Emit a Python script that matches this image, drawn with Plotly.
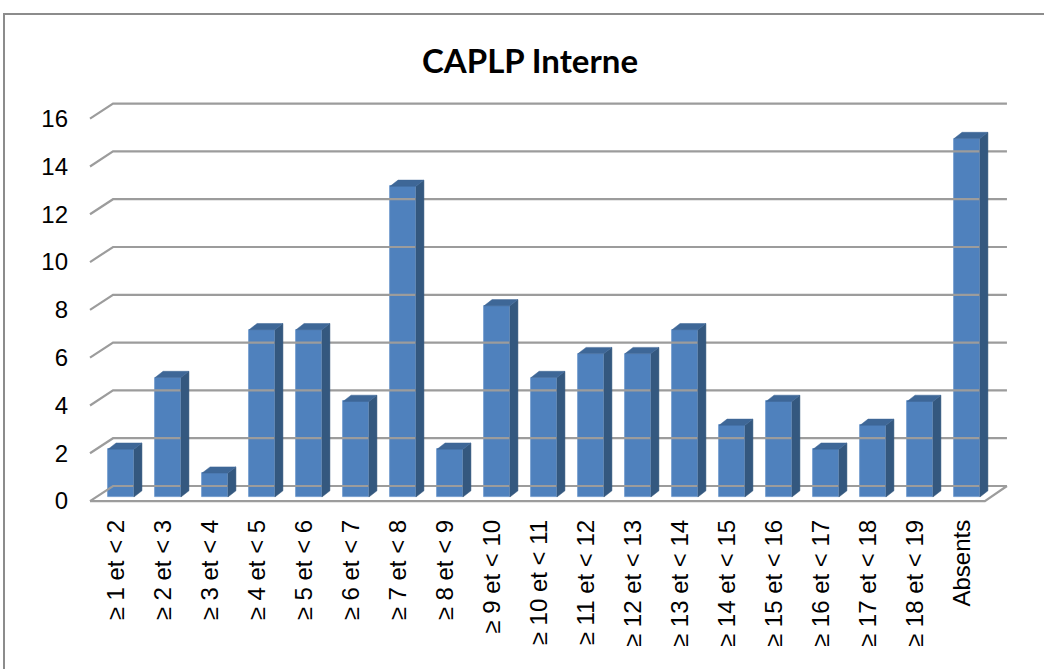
import plotly.graph_objects as go

# ---- data ----
categories = ["≥ 1 et < 2", "≥ 2 et < 3", "≥ 3 et < 4", "≥ 4 et < 5", "≥ 5 et < 6",
              "≥ 6 et < 7", "≥ 7 et < 8", "≥ 8 et < 9", "≥ 9 et < 10", "≥ 10 et < 11",
              "≥ 11 et < 12", "≥ 12 et < 13", "≥ 13 et < 14", "≥ 14 et < 15", "≥ 15 et < 16",
              "≥ 16 et < 17", "≥ 17 et < 18", "≥ 18 et < 19", "Absents"]
values = [2, 5, 1, 7, 7, 4, 13, 2, 8, 5, 6, 6, 7, 3, 4, 2, 3, 4, 15]
y_ticks = [0, 2, 4, 6, 8, 10, 12, 14, 16]
title_text = "CAPLP Interne"

# ---- 3D-look geometry (in axis units) ----
n = len(categories)
xs = list(range(n))
bar_w = 0.55
dx, dy = 0.17, 0.26          # bar depth offset
front_dy = -0.17             # front plane offset (tick labels, floor edge)
back_dy = 0.46               # back wall offset
front_x0, back_x0 = -0.66, -0.17
front_x1, back_x1 = 18.38, 18.85

grid_color = "#9C9C9C"
front_col = "#4F81BD"
side_col = "#34587F"
top_col = "#3E6797"

fig = go.Figure()

# gridlines: back wall + left diagonal
gx, gy = [], []
for v in y_ticks:
    gx += [front_x0, back_x0, back_x1, None]
    gy += [v + front_dy, v + back_dy, v + back_dy, None]
# floor front edge and right diagonal
gx += [front_x0, front_x1, back_x1, None]
gy += [front_dy, front_dy, back_dy, None]
fig.add_trace(go.Scatter(x=gx, y=gy, mode="lines", line=dict(color=grid_color, width=2.2),
                         hoverinfo="skip", showlegend=False))

# side faces
sx, sy = [], []
for i, v in zip(xs, values):
    r = i + bar_w / 2
    sx += [r, r + dx, r + dx, r, r, None]
    sy += [0, dy, v + dy, v, 0, None]
fig.add_trace(go.Scatter(x=sx, y=sy, mode="lines", fill="toself", fillcolor=side_col,
                         line=dict(color=side_col, width=0.5), hoverinfo="skip", showlegend=False))

# top faces
tx, ty = [], []
for i, v in zip(xs, values):
    l = i - bar_w / 2
    r = i + bar_w / 2
    tx += [l, l + dx, r + dx, r, l, None]
    ty += [v, v + dy, v + dy, v, v, None]
fig.add_trace(go.Scatter(x=tx, y=ty, mode="lines", fill="toself", fillcolor=top_col,
                         line=dict(color=top_col, width=0.5), hoverinfo="skip", showlegend=False))

# front faces
fig.add_trace(go.Bar(x=xs, y=values, width=bar_w, marker=dict(color=front_col,
                     line=dict(color="#6C97CB", width=0.8)), showlegend=False))

fig.update_layout(
    width=1044, height=669,
    margin=dict(l=83, r=30, t=101, b=165),
    paper_bgcolor="white", plot_bgcolor="white",
    title=dict(text=f"<b>{title_text}</b>", x=530 / 1044, xanchor="center",
               y=1 - 61 / 669, yanchor="middle",
               font=dict(family="Lato", size=33, color="black")),
    xaxis=dict(range=[-0.809, 19.0], tickmode="array",
               tickvals=[i - 0.1 for i in xs], ticktext=categories,
               tickangle=-90, showgrid=False, zeroline=False, showline=False,
               ticks="", ticklabelstandoff=10,
               tickfont=dict(family="Liberation Sans", size=24, color="black")),
    yaxis=dict(range=[-0.293, 16.57], tickmode="array",
               tickvals=[v + front_dy for v in y_ticks], ticktext=[str(v) for v in y_ticks],
               showgrid=False, zeroline=False, showline=False, ticks="",
               ticklabelstandoff=14,
               tickfont=dict(family="Liberation Sans", size=24, color="black")),
    bargap=0,
    shapes=[dict(type="rect", xref="paper", yref="paper",
                 x0=(4 - 83) / 931, x1=1.2, y0=-0.6, y1=1 + (101 - 14) / 403,
                 line=dict(color="#8C8C8C", width=2), layer="below")],
)

fig.write_html("out.html", config={"displayModeBar": False},
               post_script="document.body.style.margin='0';")
